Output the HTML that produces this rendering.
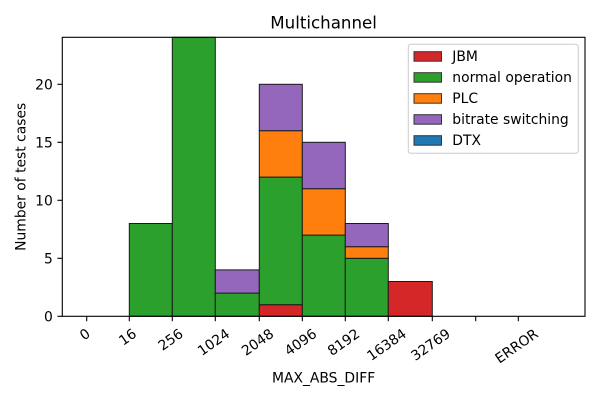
<!DOCTYPE html>
<html>
<head>
<meta charset="utf-8">
<style>
  html, body { margin: 0; padding: 0; background: #fff; }
  svg { display: block; }
  text { font-family: "DejaVu Sans", "Liberation Sans", sans-serif; fill: #000; }
</style>
</head>
<body>
<svg width="600" height="400" viewBox="0 0 600 400" xmlns="http://www.w3.org/2000/svg">
  <rect x="0" y="0" width="600" height="400" fill="#fff"/>

  <!-- Title -->
  <text x="323.6" y="28.5" font-size="16.67" text-anchor="middle">Multichannel</text>

  <!-- Bars -->
  <g stroke="#1a1a1a" stroke-width="1">
    <!-- bin 16 -->
    <rect x="129.3" y="223.5" width="43.0" height="92.8" fill="#2ca02c"/>
    <!-- bin 256 -->
    <rect x="172.3" y="37.3" width="43.0" height="279.0" fill="#2ca02c"/>
    <!-- bin 1024 -->
    <rect x="215.3" y="293.1" width="44.0" height="23.2" fill="#2ca02c"/>
    <rect x="215.3" y="269.9" width="44.0" height="23.2" fill="#9467bd"/>
    <!-- bin 2048 -->
    <rect x="259.3" y="304.7" width="43.0" height="11.6" fill="#d62728"/>
    <rect x="259.3" y="177.1" width="43.0" height="127.6" fill="#2ca02c"/>
    <rect x="259.3" y="130.7" width="43.0" height="46.4" fill="#ff7f0e"/>
    <rect x="259.3" y="84.3" width="43.0" height="46.4" fill="#9467bd"/>
    <!-- bin 4096 -->
    <rect x="302.3" y="235.1" width="43.0" height="81.2" fill="#2ca02c"/>
    <rect x="302.3" y="188.7" width="43.0" height="46.4" fill="#ff7f0e"/>
    <rect x="302.3" y="142.3" width="43.0" height="46.4" fill="#9467bd"/>
    <!-- bin 8192 -->
    <rect x="345.3" y="258.3" width="43.0" height="58.0" fill="#2ca02c"/>
    <rect x="345.3" y="246.7" width="43.0" height="11.6" fill="#ff7f0e"/>
    <rect x="345.3" y="223.5" width="43.0" height="23.2" fill="#9467bd"/>
    <!-- bin 16384 -->
    <rect x="388.3" y="281.5" width="44.0" height="34.8" fill="#d62728"/>
  </g>

  <!-- Axes spines -->
  <rect x="62.3" y="37.3" width="522.7" height="279.0" fill="none" stroke="#000" stroke-width="1.1"/>

  <!-- Y ticks -->
  <g stroke="#000" stroke-width="1.1">
    <line x1="57.4" y1="316.3" x2="62.3" y2="316.3"/>
    <line x1="57.4" y1="258.3" x2="62.3" y2="258.3"/>
    <line x1="57.4" y1="200.3" x2="62.3" y2="200.3"/>
    <line x1="57.4" y1="142.3" x2="62.3" y2="142.3"/>
    <line x1="57.4" y1="84.3" x2="62.3" y2="84.3"/>
  </g>
  <g font-size="13.89" text-anchor="end">
    <text x="52.8" y="321.3">0</text>
    <text x="52.8" y="263.3">5</text>
    <text x="52.8" y="205.3">10</text>
    <text x="52.8" y="147.3">15</text>
    <text x="52.8" y="89.3">20</text>
  </g>
  <text transform="translate(25.5,176.8) rotate(-90)" font-size="13.89" text-anchor="middle">Number of test cases</text>

  <!-- X ticks -->
  <g stroke="#000" stroke-width="1.1">
    <line x1="86.7" y1="316.3" x2="86.7" y2="321.2"/>
    <line x1="129.3" y1="316.3" x2="129.3" y2="321.2"/>
    <line x1="172.3" y1="316.3" x2="172.3" y2="321.2"/>
    <line x1="215.3" y1="316.3" x2="215.3" y2="321.2"/>
    <line x1="259.3" y1="316.3" x2="259.3" y2="321.2"/>
    <line x1="302.3" y1="316.3" x2="302.3" y2="321.2"/>
    <line x1="345.3" y1="316.3" x2="345.3" y2="321.2"/>
    <line x1="388.3" y1="316.3" x2="388.3" y2="321.2"/>
    <line x1="432.3" y1="316.3" x2="432.3" y2="321.2"/>
    <line x1="475.7" y1="316.3" x2="475.7" y2="321.2"/>
    <line x1="518.3" y1="316.3" x2="518.3" y2="321.2"/>
  </g>
  <g font-size="13.89" text-anchor="middle" dominant-baseline="central">
    <text transform="translate(85.3,335.0) rotate(-35)">0</text>
    <text transform="translate(128.0,337.6) rotate(-35)">16</text>
    <text transform="translate(171.0,340.2) rotate(-35)">256</text>
    <text transform="translate(214.0,342.8) rotate(-35)">1024</text>
    <text transform="translate(258.0,342.8) rotate(-35)">2048</text>
    <text transform="translate(301.0,342.8) rotate(-35)">4096</text>
    <text transform="translate(344.0,342.8) rotate(-35)">8192</text>
    <text transform="translate(387.0,345.3) rotate(-35)">16384</text>
    <text transform="translate(431.0,345.3) rotate(-35)">32769</text>
    <text transform="translate(517.0,346.6) rotate(-35)">ERROR</text>
  </g>
  <text x="323.6" y="382.3" font-size="13.89" text-anchor="middle">MAX_ABS_DIFF</text>

  <!-- Legend -->
  <rect x="408.3" y="44.3" width="170" height="109" rx="2.8" ry="2.8" fill="#fff" fill-opacity="0.8" stroke="#cccccc" stroke-width="1"/>
  <g stroke="#333" stroke-width="1">
    <rect x="414" y="51.7" width="27.5" height="9.5" fill="#d62728"/>
    <rect x="414" y="72.7" width="27.5" height="9.5" fill="#2ca02c"/>
    <rect x="414" y="93.7" width="27.5" height="9.5" fill="#ff7f0e"/>
    <rect x="414" y="114.7" width="27.5" height="9.5" fill="#9467bd"/>
    <rect x="414" y="135.7" width="27.5" height="9.5" fill="#1f77b4"/>
  </g>
  <g font-size="13.89">
    <text x="452.3" y="61.2">JBM</text>
    <text x="452.3" y="82.2">normal operation</text>
    <text x="452.3" y="103.2">PLC</text>
    <text x="452.3" y="124.2">bitrate switching</text>
    <text x="452.3" y="145.2">DTX</text>
  </g>
</svg>
</body>
</html>
